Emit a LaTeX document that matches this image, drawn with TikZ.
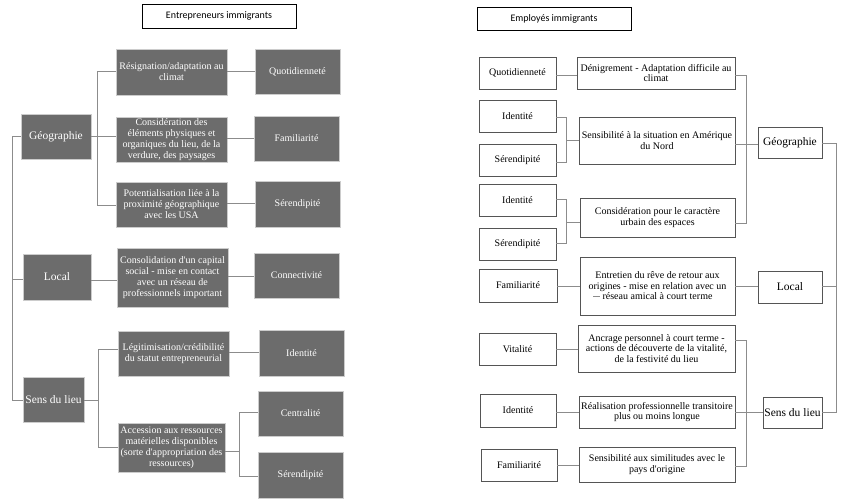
\documentclass[tikz,border=0pt]{standalone}
\usepackage{fontspec}
\setmainfont{Liberation Serif}
\newfontfamily\titlefont{Carlito}
\begin{document}
\begin{tikzpicture}[x=1pt,y=-1pt,
  dbox/.style={draw=gray!40,line width=0.6pt,fill=boxfill,text=white,align=center,inner sep=0pt,font=\rmfamily\fontsize{10}{11}\selectfont},
  wbox/.style={draw=boxline,line width=0.8pt,fill=white,text=black,align=center,inner sep=0pt,font=\rmfamily\fontsize{10}{10.5}\selectfont},
  lab/.style={font=\rmfamily\fontsize{10}{12}\selectfont},
  cat/.style={font=\rmfamily\fontsize{11.5}{13}\selectfont},
  tbox/.style={draw=black,line width=0.8pt,fill=white,align=center,font=\titlefont\fontsize{10}{12}\selectfont},
  conn/.style={draw=linegray,line width=0.9pt}]
\definecolor{boxfill}{RGB}{108,108,108}
\definecolor{linegray}{RGB}{140,140,140}
\definecolor{boxline}{RGB}{85,85,85}
\useasboundingbox (0,0) rectangle (844,503);
\fill[white] (0,0) rectangle (844,503);
% helper: box by corners
\newcommand{\bx}[7]{\node[#1,minimum width={#5-#3},minimum height={#6-#4}] (#2) at ({(#3+#5)/2},{(#4+#6)/2}) {#7};}
% ===== Left side =====
\bx{tbox}{tL}{142}{4}{296}{28}{Entrepreneurs immigrants}
\bx{dbox}{res}{116}{49}{227}{95}{Résignation/adaptation au\\climat}
\bx{dbox,lab}{quoL}{255}{49}{340}{94}{Quotidienneté}
\bx{dbox,cat}{geoL}{21}{114}{91}{159}{Géographie}
\bx{dbox}{consL}{116}{117}{227}{162}{Considération des\\éléments physiques et\\organiques du lieu, de la\\verdure, des paysages}
\bx{dbox,lab}{famL}{254}{116}{339}{161}{Familiarité}
\bx{dbox}{pot}{116}{182}{227}{227}{Potentialisation liée à la\\proximité géographique\\avec les USA}
\bx{dbox,lab}{serL}{255}{181}{340}{227}{Sérendipité}
\bx{dbox,cat}{locL}{23}{254}{91}{300}{Local}
\bx{dbox}{conso}{117}{248}{228}{307}{Consolidation d\textquotesingle un capital\\social - mise en contact\\avec un réseau de\\professionnels important}
\bx{dbox,lab}{connL}{254}{253}{339}{298}{Connectivité}
\bx{dbox}{legi}{118}{331}{229}{376}{Légitimisation/crédibilité\\du statut entrepreneurial}
\bx{dbox,lab}{idL}{259}{330}{344}{376}{Identité}
\bx{dbox,cat}{sensL}{23}{377}{84}{422}{Sens du lieu}
\bx{dbox}{acc}{118}{423}{225}{472}{Accession aux ressources\\matérielles disponibles\\(sorte d\textquotesingle appropriation des\\ressources)}
\bx{dbox,lab}{cent}{258}{391}{343}{436}{Centralité}
\bx{dbox,lab}{serL2}{258}{452}{343}{498}{Sérendipité}
% left connectors
\coordinate (sp1) at (12,136);
\coordinate (sp3) at (12,400);
\draw[conn] (geoL.west |- sp1) -- (sp1) -- (sp3) -- (sensL.west |- sp3);
\draw[conn] (locL.west |- 0,279) -- (12,279);
\coordinate (g1) at (97,71);
\coordinate (g3) at (97,205);
\draw[conn] (res.west |- g1) -- (g1) -- (g3) -- (pot.west |- g3);
\draw[conn] (geoL.east |- sp1) -- (consL.west |- sp1);
\draw[conn] (res.east |- 0,71) -- (quoL.west |- 0,71);
\draw[conn] (consL.east |- 0,138) -- (famL.west |- 0,138);
\draw[conn] (pot.east |- 0,203) -- (serL.west |- 0,203);
\draw[conn] (locL.east |- 0,280) -- (conso.west |- 0,280);
\draw[conn] (conso.east |- 0,276) -- (connL.west |- 0,276);
\coordinate (s1) at (98,349);
\coordinate (s3) at (98,447);
\draw[conn] (legi.west |- s1) -- (s1) -- (s3) -- (acc.west |- s3);
\draw[conn] (sensL.east |- sp3) -- (98,400);
\draw[conn] (legi.east |- 0,352) -- (idL.west |- 0,352);
\coordinate (a1) at (239,412);
\coordinate (a3) at (239,476);
\draw[conn] (cent.west |- a1) -- (a1) -- (a3) -- (serL2.west |- a3);
\draw[conn] (acc.east |- 0,451) -- (239,451);
% ===== Right side =====
\bx{tbox}{tR}{477}{7}{631}{30}{Employés immigrants}
\bx{wbox,lab}{quoR}{479}{57}{556}{89}{Quotidienneté}
\bx{wbox}{deni}{577}{57}{735}{89}{Dénigrement - Adaptation difficile au\\climat}
\bx{wbox,lab}{idR1}{479}{100}{556}{132}{Identité}
\bx{wbox,lab}{serR1}{479}{144}{556}{176}{Sérendipité}
\bx{wbox}{amer}{579}{117}{735}{164}{Sensibilité à la situation en Amérique\\du Nord}
\bx{wbox,cat}{geoR}{758}{127}{822}{158}{Géographie}
\bx{wbox,lab}{idR2}{479}{184}{556}{216}{Identité}
\bx{wbox,lab}{serR2}{479}{228}{556}{260}{Sérendipité}
\bx{wbox}{urb}{580}{198}{735}{237}{Considération pour le caractère\\urbain des espaces}
\bx{wbox,lab}{famR1}{479}{269}{557}{302}{Familiarité}
\bx{wbox}{entr}{580}{257}{735}{315}{Entretien du rêve de retour aux\\origines - mise en relation avec un\\réseau amical à court terme}
\bx{wbox,cat}{locR}{758}{271}{822}{303}{Local}
\bx{wbox,lab}{vit}{479}{333}{556}{365}{Vitalité}
\bx{wbox}{ancr}{578}{325}{735}{372}{Ancrage personnel à court terme -\\actions de découverte de la vitalité,\\de la festivité du lieu}
\bx{wbox,lab}{idR3}{480}{394}{556}{427}{Identité}
\bx{wbox}{real}{579}{396}{735}{428}{Réalisation professionnelle transitoire\\plus ou moins longue}
\bx{wbox,cat}{sensR}{763}{397}{822}{428}{Sens du lieu}
\bx{wbox,lab}{famR2}{481}{449}{557}{481}{Familiarité}
\bx{wbox}{simi}{579}{447}{735}{482}{Sensibilité aux similitudes avec le\\pays d\textquotesingle origine}
% right connectors
\draw[conn] (quoR.east |- 0,75) -- (deni.west |- 0,75);
\coordinate (d1) at (746,75);
\coordinate (d3) at (746,223);
\draw[conn] (deni.east |- d1) -- (d1) -- (d3) -- (urb.east |- d3);
\draw[conn] (amer.east |- 0,144) -- (geoR.west |- 0,144);
\coordinate (r1) at (836,143);
\coordinate (r3) at (836,412);
\draw[conn] (geoR.east |- r1) -- (r1) -- (r3) -- (sensR.east |- r3);
\draw[conn] (locR.east |- 0,286) -- (836,286);
\coordinate (i1) at (566,117);
\coordinate (i3) at (566,162);
\draw[conn] (idR1.east |- i1) -- (i1) -- (i3) -- (serR1.east |- i3);
\draw[conn] (566,140) -- (amer.west |- 0,140);
\coordinate (j1) at (566,199);
\coordinate (j3) at (566,243);
\draw[conn] (idR2.east |- j1) -- (j1) -- (j3) -- (serR2.east |- j3);
\draw[conn] (566,222) -- (urb.west |- 0,222);
\draw[conn] (famR1.east |- 0,286) -- (entr.west |- 0,286);
\draw[conn] (entr.east |- 0,286) -- (locR.west |- 0,286);
\draw[conn] (593,296) -- (600,296);
\draw[conn] (vit.east |- 0,349) -- (ancr.west |- 0,349);
\coordinate (k1) at (746,340);
\coordinate (k3) at (746,466);
\draw[conn] (ancr.east |- k1) -- (k1) -- (k3) -- (simi.east |- k3);
\draw[conn] (real.east |- 0,412) -- (sensR.west |- 0,412);
\draw[conn] (idR3.east |- 0,412) -- (real.west |- 0,412);
\draw[conn] (famR2.east |- 0,465) -- (simi.west |- 0,465);
\end{tikzpicture}
\end{document}
